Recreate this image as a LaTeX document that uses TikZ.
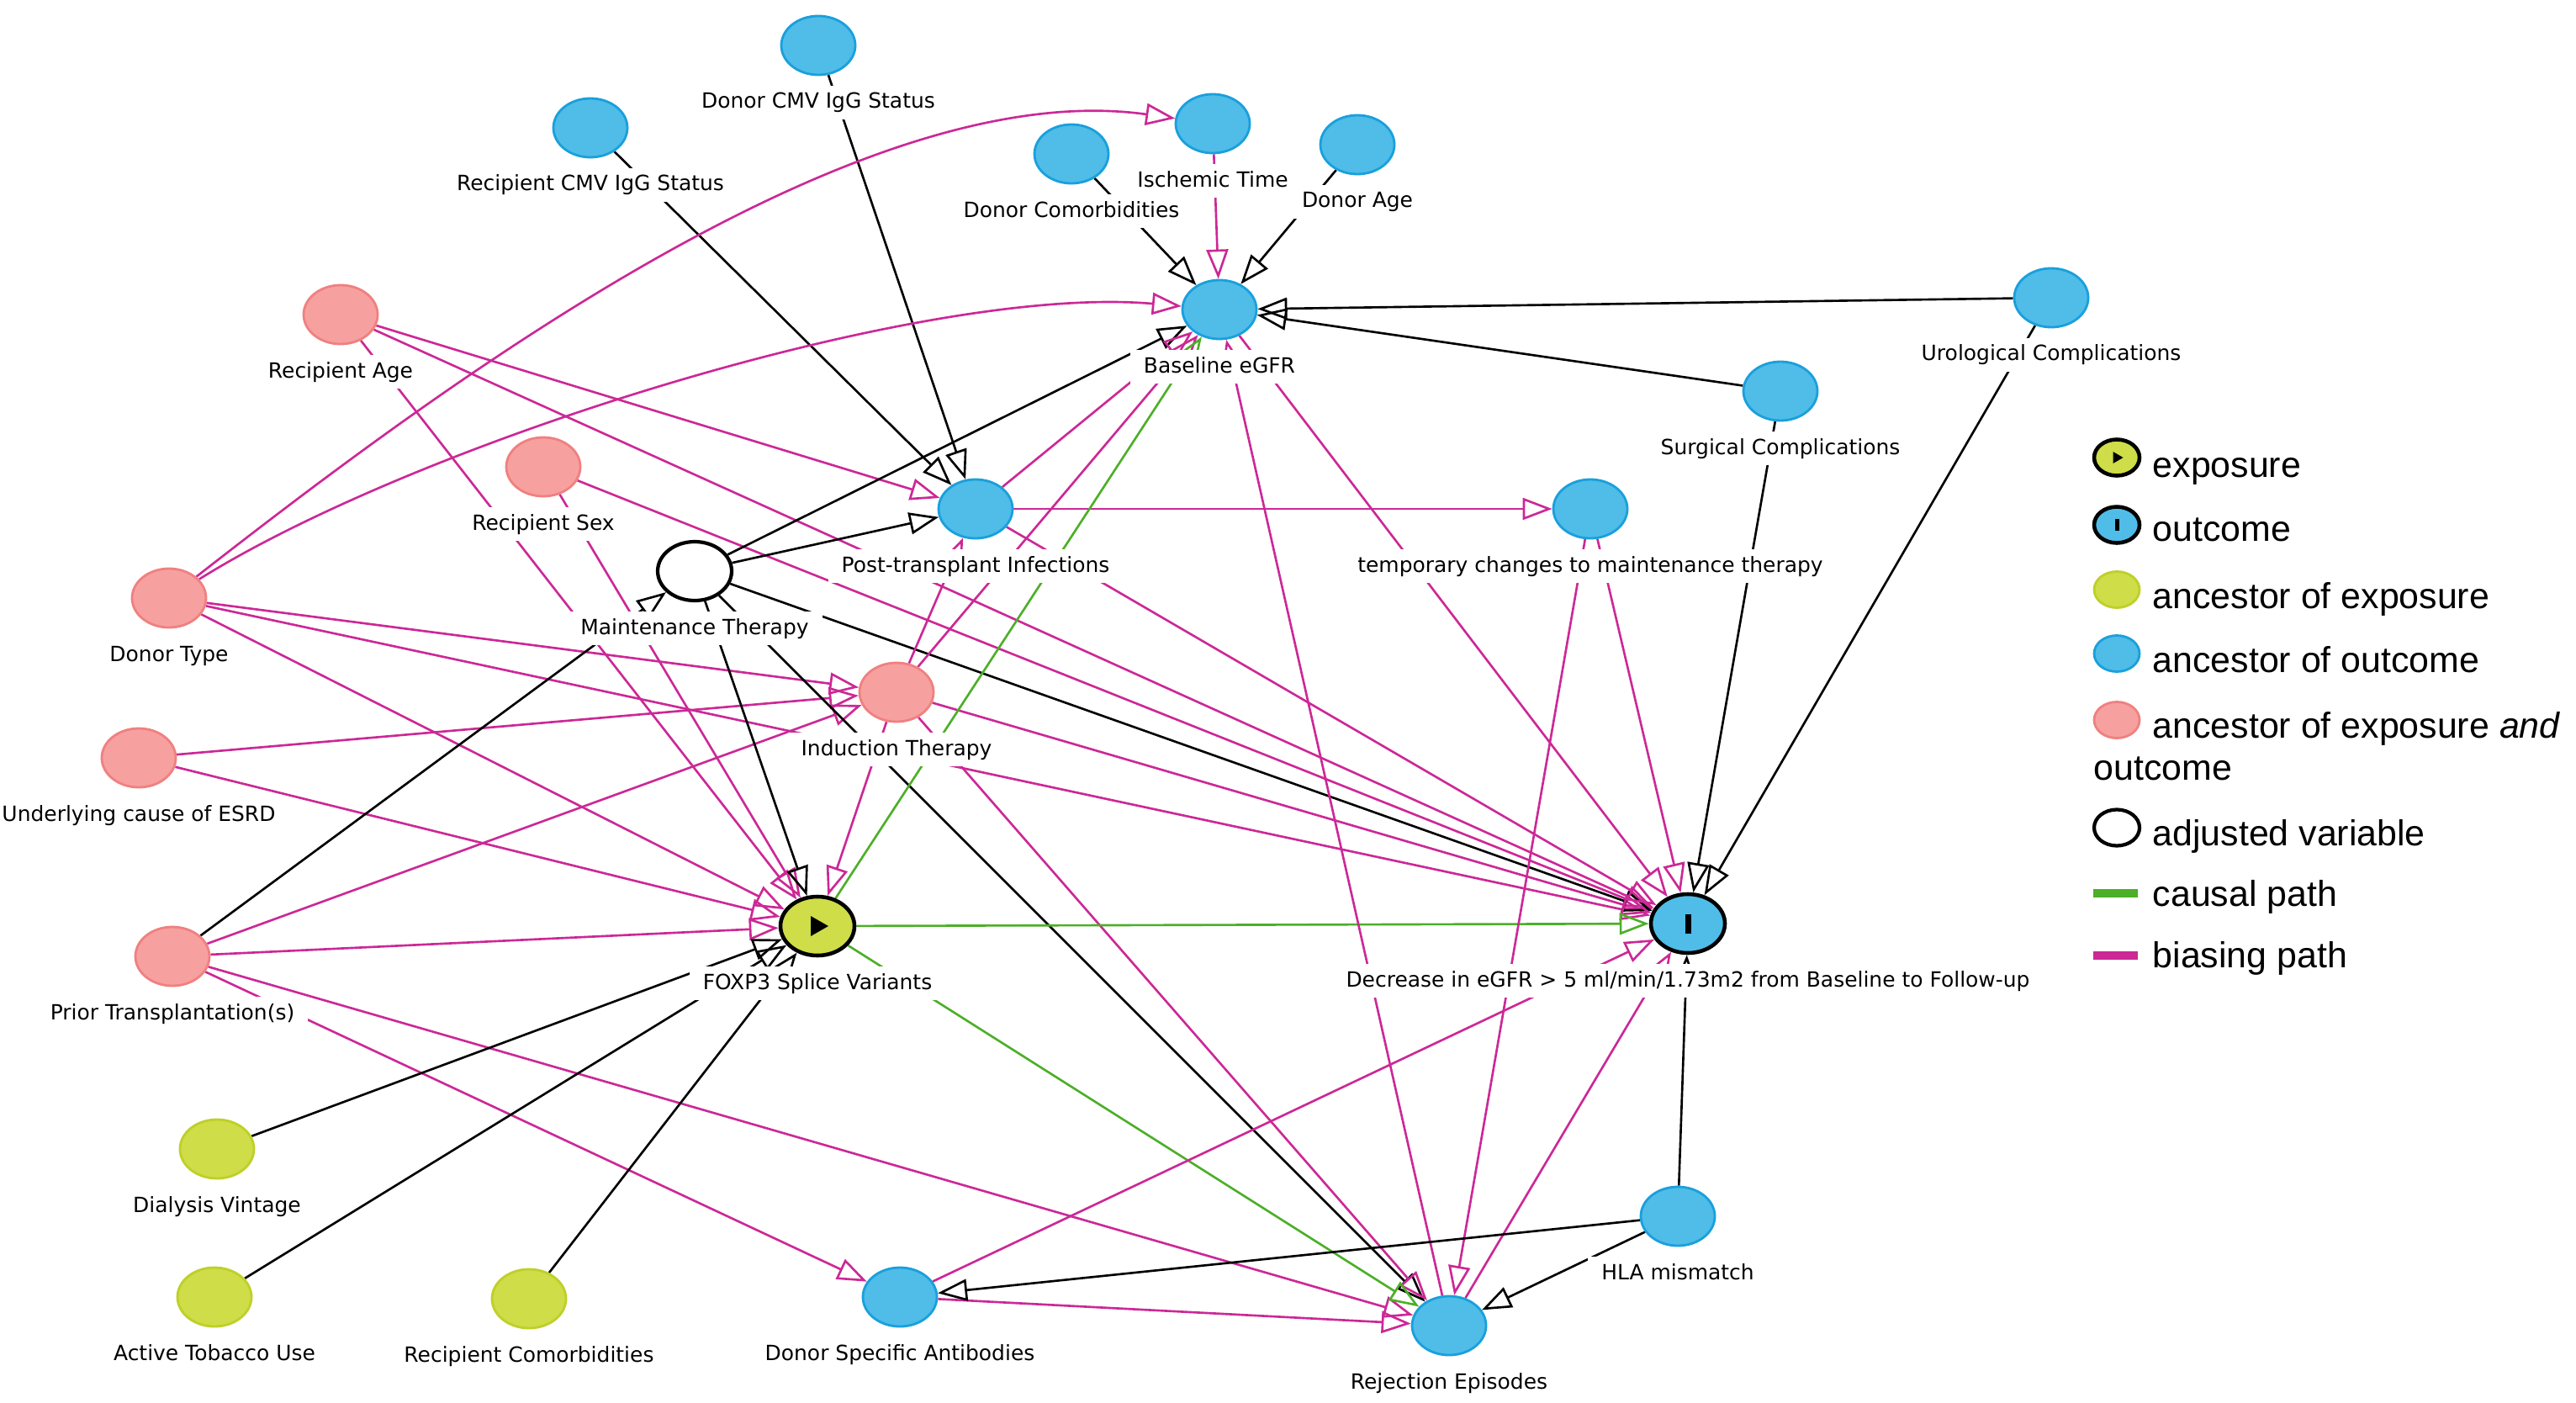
\documentclass[tikz,border=0pt]{standalone}
\usepackage{fontspec}
\setmainfont{DejaVu Sans}
\newfontfamily\legendfont{Liberation Sans}
\usetikzlibrary{shapes.geometric,arrows.meta}

\pgfdeclarelayer{edges}
\pgfsetlayers{edges,main}

\definecolor{ancout}{RGB}{80,188,232}
\definecolor{ancoutline}{RGB}{25,160,220}
\definecolor{ancboth}{RGB}{247,160,160}
\definecolor{ancbothline}{RGB}{240,128,128}
\definecolor{ancexp}{RGB}{206,221,72}
\definecolor{ancexpline}{RGB}{190,208,40}
\definecolor{biascol}{RGB}{204,40,150}
\definecolor{causalcol}{RGB}{76,175,40}

\tikzset{
  vnode/.style={ellipse,minimum width=8.8mm,minimum height=7mm,inner sep=0pt,line width=0.8pt},
  aout/.style={vnode,fill=ancout,draw=ancoutline},
  aboth/.style={vnode,fill=ancboth,draw=ancbothline},
  aexp/.style={vnode,fill=ancexp,draw=ancexpline},
  adjusted/.style={vnode,fill=white,draw=black,line width=1.2pt},
  exposure/.style={vnode,fill=ancexp,draw=black,line width=1.3pt},
  outcome/.style={vnode,fill=ancout,draw=black,line width=1.3pt},
  keysize/.style={minimum width=5.4mm,minimum height=4.3mm},
  vname/.style={fill=white,inner xsep=1.6mm,inner ysep=0.8mm,text height=1.9mm,text depth=0.5mm,
    font=\fontsize{7.1}{8.5}\selectfont},
  link/.style={line width=0.75pt,-{Triangle[open,length=3.5mm,width=2.6mm]}},
  kline/.style={link,draw=black},
  mline/.style={link,draw=biascol},
  gline/.style={link,draw=causalcol},
}

\begin{document}
\begin{tikzpicture}
	\useasboundingbox (0,0) rectangle (30.63,16.67);

	% variables
	\node[aout] (dcmv) at (9.73,16.13) {};
	\node[aout] (rcmv) at (7.02,15.15) {};
	\node[aout] (isch) at (14.42,15.20) {};
	\node[aout] (dcom) at (12.74,14.84) {};
	\node[aout] (dage) at (16.14,14.95) {};
	\node[aout] (base) at (14.50,12.99) {};
	\node[aout] (uro) at (24.39,13.13) {};
	\node[aout] (surg) at (21.17,12.02) {};
	\node[aboth] (rage) at (4.05,12.93) {};
	\node[aboth] (rsex) at (6.46,11.12) {};
	\node[aboth] (dtype) at (2.01,9.56) {};
	\node[adjusted] (maint) at (8.26,9.88) {};
	\node[aout] (pti) at (11.60,10.62) {};
	\node[aout] (tmp) at (18.91,10.62) {};
	\node[aboth] (ind) at (10.66,8.44) {};
	\node[aboth] (esrd) at (1.65,7.66) {};
	\node[aboth] (prior) at (2.05,5.30) {};
	\node[exposure] (exp) at (9.72,5.66) {};
	\node[outcome] (out) at (20.07,5.69) {};
	\node[aexp] (dial) at (2.58,3.01) {};
	\node[aexp] (tob) at (2.55,1.25) {};
	\node[aexp] (rcom) at (6.29,1.23) {};
	\node[aout] (dsa) at (10.70,1.25) {};
	\node[aout] (rej) at (17.23,0.91) {};
	\node[aout] (hla) at (19.95,2.21) {};

	\fill ([shift={(-0.08,0.12)}]exp.center) -- ++(0.21,-0.12) -- ++(-0.21,-0.12) -- cycle;
	\fill ([shift={(-0.035,-0.115)}]out.center) rectangle ++(0.07,0.23);

	% arrows
	\begin{pgfonlayer}{edges}
		\draw[kline] (dcmv) -- (pti);
		\draw[kline] (rcmv) -- (pti);
		\draw[kline] (dcom) -- (base);
		\draw[mline] (isch) -- (base);
		\draw[kline] (dage) -- (base);
		\draw[kline] (uro) -- (base);
		\draw[kline] (surg) -- (base);
		\draw[kline] (uro) -- (out);
		\draw[kline] (surg) -- (out);

		\draw[mline] (dtype) to[out=38,in=172,looseness=0.75] (isch);
		\draw[mline] (dtype) to[out=32,in=175,looseness=0.65] (base);
		\draw[mline] (dtype) -- (ind);
		\draw[mline] (dtype) -- (exp);
		\draw[mline] (dtype) -- (out);
		\draw[mline] (rage) -- (pti);
		\draw[mline] (rage) -- (out);
		\draw[mline] (rage) -- (exp);
		\draw[mline] (rsex) -- (out);
		\draw[mline] (rsex) -- (exp);
		\draw[mline] (esrd) -- (ind);
		\draw[mline] (esrd) -- (exp);
		\draw[kline] (prior) -- (maint);
		\draw[mline] (prior) -- (ind);
		\draw[mline] (prior) -- (exp);
		\draw[mline] (prior) -- (rej);
		\draw[mline] (prior) -- (dsa);
		\draw[kline] (dial) -- (exp);
		\draw[kline] (tob) -- (exp);
		\draw[kline] (rcom) -- (exp);

		\draw[kline] (maint) -- (base);
		\draw[kline] (maint) -- (pti);
		\draw[kline] (maint) -- (exp);
		\draw[kline] (maint) -- (out);
		\draw[kline] (maint) -- (rej);
		\draw[mline] (pti) -- (base);
		\draw[mline] (pti) -- (tmp);
		\draw[mline] (pti) -- (out);
		\draw[mline] (ind) -- (pti);
		\draw[mline] (ind) -- (base);
		\draw[mline] (ind) -- (exp);
		\draw[mline] (ind) -- (out);
		\draw[mline] (ind) -- (rej);

		\draw[gline] (exp) -- (base);
		\draw[gline] (exp) -- (out);
		\draw[gline] (exp) -- (rej);

		\draw[mline] (tmp) -- (out);
		\draw[mline] (tmp) -- (rej);
		\draw[mline] (base) -- (out);
		\draw[mline] (rej) -- (base);
		\draw[mline] (rej) -- (out);
		\draw[mline] (dsa) -- (out);
		\draw[mline] (dsa) -- (rej);
		\draw[kline] (hla) -- (dsa);
		\draw[kline] (hla) -- (rej);
		\draw[kline] (hla) -- (out);
	\end{pgfonlayer}

	% names
	\node[vname] (dcmv-l) at ([yshift=-6.8mm]dcmv) {Donor CMV IgG Status};
	\node[vname] (rcmv-l) at ([yshift=-6.8mm]rcmv) {Recipient CMV IgG Status};
	\node[vname] (dcom-l) at ([yshift=-6.8mm]dcom) {Donor Comorbidities};
	\node[vname] (isch-l) at ([yshift=-6.8mm]isch) {Ischemic Time};
	\node[vname] (dage-l) at ([yshift=-6.8mm]dage) {Donor Age};
	\node[vname] (base-l) at ([yshift=-6.8mm]base) {Baseline eGFR};
	\node[vname] (uro-l) at ([yshift=-6.8mm]uro) {Urological Complications};
	\node[vname] (surg-l) at ([yshift=-6.8mm]surg) {Surgical Complications};
	\node[vname] (rage-l) at ([yshift=-6.8mm]rage) {Recipient Age};
	\node[vname] (rsex-l) at ([yshift=-6.8mm]rsex) {Recipient Sex};
	\node[vname] (dtype-l) at ([yshift=-6.8mm]dtype) {Donor Type};
	\node[vname] (maint-l) at ([yshift=-6.8mm]maint) {Maintenance Therapy};
	\node[vname] (pti-l) at ([yshift=-6.8mm]pti) {Post-transplant Infections};
	\node[vname] (tmp-l) at ([yshift=-6.8mm]tmp) {temporary changes to maintenance therapy};
	\node[vname] (ind-l) at ([yshift=-6.8mm]ind) {Induction Therapy};
	\node[vname] (esrd-l) at ([yshift=-6.8mm]esrd) {Underlying cause of ESRD};
	\node[vname] (prior-l) at ([yshift=-6.8mm]prior) {Prior Transplantation(s)};
	\node[vname] (exp-l) at ([yshift=-6.8mm]exp) {FOXP3 Splice Variants};
	\node[vname] (out-l) at ([yshift=-6.8mm]out) {Decrease in eGFR > 5 ml/min/1.73m2 from Baseline to Follow-up};
	\node[vname] (dial-l) at ([yshift=-6.8mm]dial) {Dialysis Vintage};
	\node[vname] (tob-l) at ([yshift=-6.8mm]tob) {Active Tobacco Use};
	\node[vname] (rcom-l) at ([yshift=-6.8mm]rcom) {Recipient Comorbidities};
	\node[vname] (dsa-l) at ([yshift=-6.8mm]dsa) {Donor Specific Antibodies};
	\node[vname] (rej-l) at ([yshift=-6.8mm]rej) {Rejection Episodes};
	\node[vname] (hla-l) at ([yshift=-6.8mm]hla) {HLA mismatch};

	% legend
	\node[exposure,keysize] (kexp) at (25.17,11.23) {};
	\node[outcome,keysize] (kout) at (25.17,10.43) {};
	\node[aexp,keysize] (kaexp) at (25.17,9.66) {};
	\node[aout,keysize] (kaout) at (25.17,8.90) {};
	\node[aboth,keysize] (kboth) at (25.17,8.11) {};
	\node[adjusted,keysize] (kadj) at (25.17,6.83) {};
	\fill ([shift={(-0.045,0.07)}]kexp.center) -- ++(0.12,-0.07) -- ++(-0.12,-0.07) -- cycle;
	\fill ([shift={(-0.025,-0.07)}]kout.center) rectangle ++(0.05,0.14);
	\draw[causalcol,line width=2.6pt] (24.89,6.05) -- (25.42,6.05);
	\draw[biascol,line width=2.6pt] (24.89,5.31) -- (25.42,5.31);
	\begin{scope}[font=\legendfont\fontsize{12.2}{14}\selectfont,
		every node/.append style={anchor=base west,inner sep=0pt}]
		\node (kexp-t) at (25.59,11.00) {exposure};
		\node (kout-t) at (25.59,10.24) {outcome};
		\node (kaexp-t) at (25.59,9.44) {ancestor of exposure};
		\node (kaout-t) at (25.59,8.68) {ancestor of outcome};
		\node (kboth-t) at (25.59,7.90) {ancestor of exposure \textit{and}};
		\node (kboth-t2) at (24.89,7.40) {outcome};
		\node (kadj-t) at (25.59,6.62) {adjusted variable};
		\node (kcau-t) at (25.59,5.90) {causal path};
		\node (kbia-t) at (25.59,5.17) {biasing path};
	\end{scope}
\end{tikzpicture}
\end{document}
